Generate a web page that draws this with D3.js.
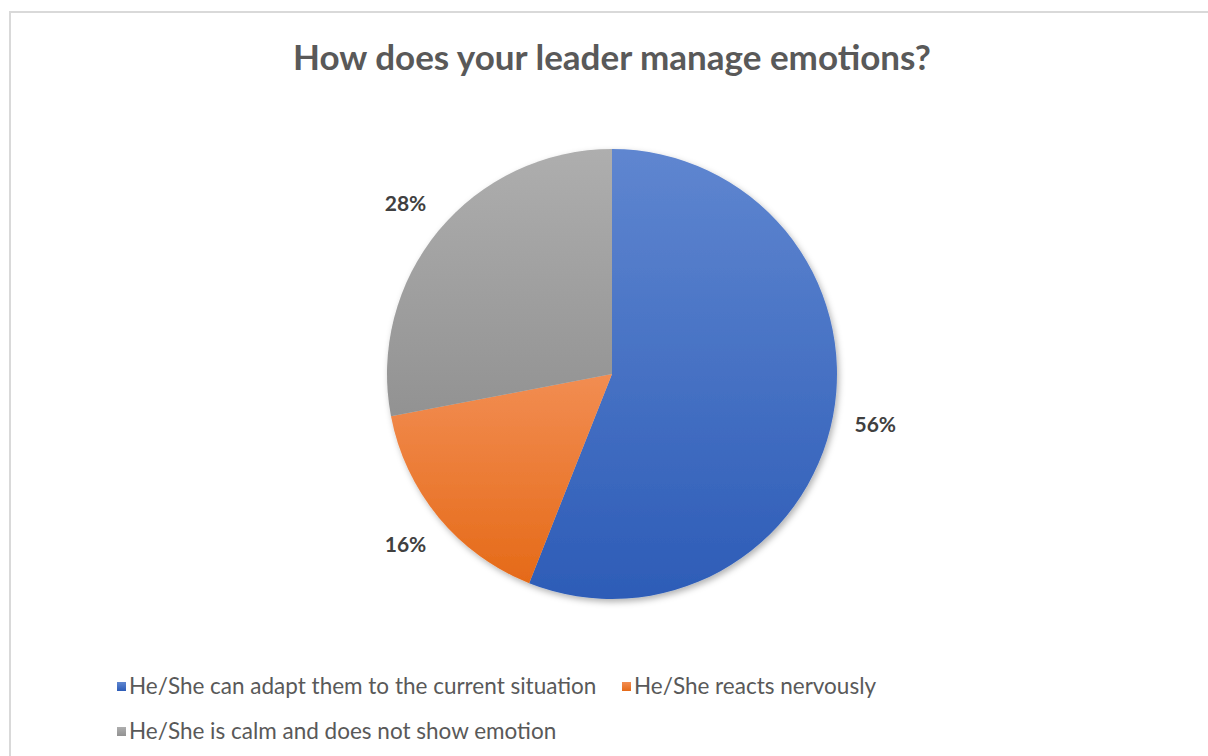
<!DOCTYPE html>
<html>
<head>
<meta charset="utf-8">
<script src="https://cdn.jsdelivr.net/npm/d3@7"></script>
<style>
  html, body { margin: 0; padding: 0; background: #fff; }
  svg text { font-family: Lato, "Open Sans", "Liberation Sans", sans-serif; }
</style>
</head>
<body>
<div id="chart"></div>
<script>
// chart data
var categories = [
  "He/She can adapt them to the current situation",
  "He/She reacts nervously",
  "He/She is calm and does not show emotion"
];
var shares = [56, 16, 28];
var title = "How does your leader manage emotions?";

// gradient colours per slice (top, bottom)
var colorTop = ["#5f86d0", "#f28d52", "#aeaeae"];
var colorBottom = ["#2d5cb7", "#e56a18", "#929292"];

var width = 1208, height = 756;
var cx = 612, cy = 374, radius = 225;

var svg = d3.select("#chart").append("svg")
  .attr("width", width)
  .attr("height", height);

var defs = svg.append("defs");

// soft shadow under the pie
var f = defs.append("filter").attr("id", "shadow")
  .attr("x", "-10%").attr("y", "-10%").attr("width", "120%").attr("height", "120%");
f.append("feDropShadow")
  .attr("dx", 2).attr("dy", 3).attr("stdDeviation", 3)
  .attr("flood-color", "#000").attr("flood-opacity", 0.3);

categories.forEach(function(c, i) {
  var g = defs.append("linearGradient").attr("id", "grad" + i)
    .attr("x1", 0).attr("y1", 0).attr("x2", 0).attr("y2", 1);
  g.append("stop").attr("offset", "0%").attr("stop-color", colorTop[i]);
  g.append("stop").attr("offset", "100%").attr("stop-color", colorBottom[i]);
});

// outer frame
svg.append("rect")
  .attr("x", 10).attr("y", 12)
  .attr("width", width + 20).attr("height", height + 20)
  .attr("fill", "none")
  .attr("stroke", "#d9d9d9")
  .attr("stroke-width", 2);

// title
svg.append("text")
  .attr("x", 612).attr("y", 70)
  .attr("text-anchor", "middle")
  .attr("font-size", 35)
  .attr("font-weight", "bold")
  .attr("fill", "#595959")
  .text(title);

var pie = d3.pie().sort(null).value(function(d) { return d; });
var arcs = pie(shares);

var arc = d3.arc().innerRadius(0).outerRadius(radius);
var labelArc = d3.arc().innerRadius(radius + 43).outerRadius(radius + 43);

var pg = svg.append("g")
  .attr("transform", "translate(" + cx + "," + cy + ")");

pg.append("g")
  .attr("filter", "url(#shadow)")
  .selectAll("path")
  .data(arcs)
  .enter().append("path")
  .attr("d", arc)
  .attr("fill", function(d, i) { return "url(#grad" + i + ")"; });

pg.selectAll(".lbl")
  .data(arcs)
  .enter().append("text")
  .attr("class", "lbl")
  .attr("transform", function(d) { return "translate(" + labelArc.centroid(d) + ")"; })
  .attr("text-anchor", "middle")
  .attr("dy", "0.35em")
  .attr("font-size", 21)
  .attr("font-weight", "bold")
  .attr("fill", "#404040")
  .text(function(d) { return d.value + "%"; });

// legend
var legendPos = [[117, 694], [622, 694], [117, 739]];
var lg = svg.append("g");
var item = lg.selectAll("g")
  .data(categories)
  .enter().append("g")
  .attr("transform", function(d, i) { return "translate(" + legendPos[i][0] + "," + legendPos[i][1] + ")"; });

item.append("rect")
  .attr("x", 0).attr("y", -12)
  .attr("width", 9).attr("height", 9)
  .attr("fill", function(d, i) { return "url(#grad" + i + ")"; });

item.append("text")
  .attr("x", 12).attr("y", 0)
  .attr("font-size", 22.5)
  .attr("fill", "#595959")
  .text(function(d) { return d; });
</script>
</body>
</html>
